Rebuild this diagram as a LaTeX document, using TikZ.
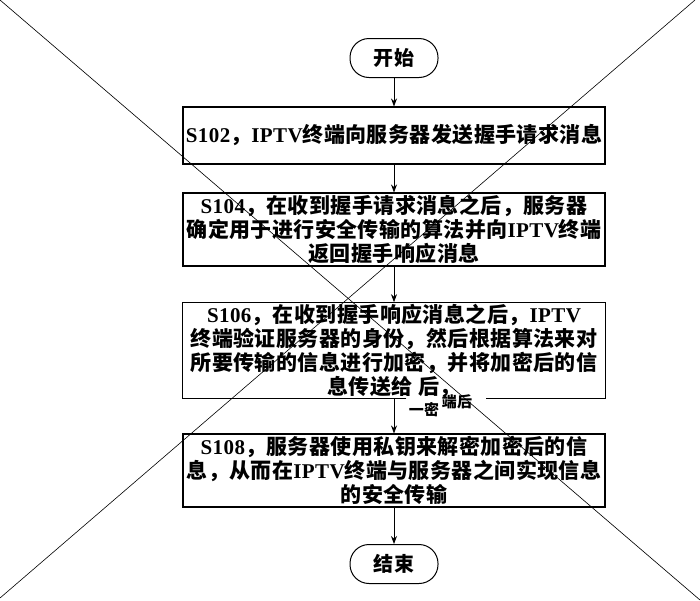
\documentclass[tikz,border=0pt]{standalone}
\usepackage{fontspec}
\setmainfont{Liberation Serif}[LetterSpace=2]
\newfontfamily\cjk{Noto Sans CJK SC}[LetterSpace=2]
\newcommand{\zh}[1]{{\cjk #1}}
\usetikzlibrary{arrows.meta}

\begin{document}
\begin{tikzpicture}[x=1pt,y=1pt,
  stepbox/.style={draw,line width=1.1pt,minimum width=422pt,align=center,
    inner sep=1pt,font=\fontsize{21}{24}\selectfont\bfseries},
  term/.style={draw,line width=1pt,rounded corners=19pt,minimum width=88pt,
    minimum height=39pt,font=\fontsize{20}{22}\selectfont\bfseries},
  flow/.style={-{Stealth[length=8pt,width=6pt]},line width=0.8pt},
  cross/.style={line width=0.6pt}]
  \useasboundingbox (0,0) rectangle (700,-600);
  \fill[white] (0,0) rectangle (700,-600);
  % start / end
  \node[term] (start) at (394,-58) {\zh{开始}};
  \node[term] (stop) at (394,-564) {\zh{结束}};
  % S102
  \node[stepbox,minimum height=57pt] (s102) at (394,-135.5)
    {S102\zh{，}IPTV\zh{终端向服务器发送握手请求消息}};
  % S104
  \node[stepbox,minimum height=73pt] (s104) at (394,-229.5)
    {S104\zh{，在收到握手请求消息之后，服务器}\\
     \zh{确定用于进行安全传输的算法并向}IPTV\zh{终端}\\
     \zh{返回握手响应消息}};
  % S106 (bottom edge broken)
  \node[stepbox,draw=none,minimum height=91pt] (s106) at (394,-350.5)
    {S106\zh{，在收到握手响应消息之后，}IPTV\\
     \zh{终端验证服务器的身份，然后根据算法来对}\\
     \zh{所要传输的信息进行加密，并将加密后的信}\\
     \zh{息传送给\ 后，}};
  \draw[line width=1.1pt] ([xshift=224pt]s106.south west) -| (s106.north west)
    -| (s106.south east) -- ++(-120pt,0);
  \node[font=\fontsize{15}{15}\selectfont\bfseries] (frag1) at (424,-410) {\zh{一密}};
  \node[font=\fontsize{15}{15}\selectfont\bfseries] (frag2) at (457,-402) {\zh{端后}};
  % S108
  \node[stepbox,minimum height=73pt] (s108) at (394,-470.5)
    {S108\zh{，服务器使用私钥来解密加密后的信}\\
     \zh{息，从而在}IPTV\zh{终端与服务器之间实现信息}\\
     \zh{的安全传输}};
  % arrows
  \draw[flow] (start) -- (s102);
  \draw[flow] (s102) -- (s104);
  \draw[flow] (s104) -- (s106);
  \draw[flow] (s106) -- (s108);
  \draw[flow] (s108) -- (stop);
  % crossing lines
  \draw[cross] (0,0) -- (700,-600);
  \draw[cross] (695,0) -- (0,-598);
\end{tikzpicture}
\end{document}
